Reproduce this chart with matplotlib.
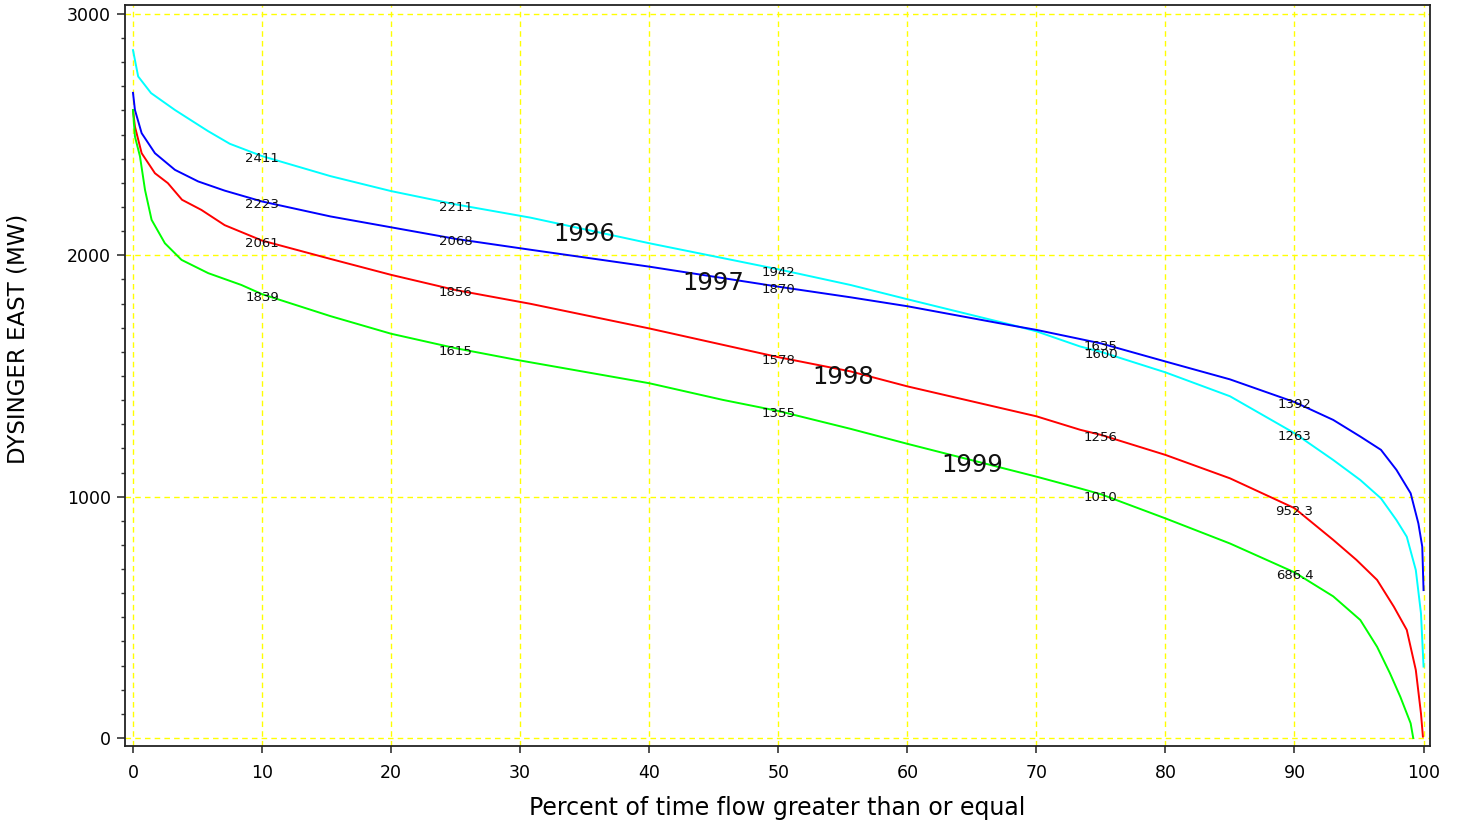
import matplotlib
matplotlib.use("Agg")
import matplotlib.pyplot as plt
from matplotlib.ticker import MultipleLocator

# ---- data ----
years = ["1996", "1997", "1998", "1999"]
colors = ["#00FFFF", "#0000FF", "#FF0000", "#00FF00"]

x1996 = [0, 0.4, 1.4, 3.25, 5.8, 7.5, 10, 15.3, 20, 25, 30.8, 40, 50, 55.6, 60, 68, 70, 73.4, 75,
         80, 85, 90, 93, 95.1, 96.7, 97.9, 98.7, 99.4, 99.8, 100]
y1996 = [2850, 2741, 2672, 2602, 2515, 2462, 2411, 2328, 2266, 2211, 2156, 2050, 1942, 1877, 1818,
         1713, 1685, 1622, 1600, 1515, 1416, 1263, 1152, 1069, 993, 903, 834, 696, 517, 296]

x1997 = [0, 0.15, 0.67, 1.7, 3.25, 5.05, 7.1, 10, 15.3, 20, 25, 30.8, 40, 50, 55.6, 60, 68, 70,
         73.4, 75, 80, 85, 90, 93, 95.1, 96.7, 97.9, 99.0, 99.6, 99.9, 100]
y1997 = [2673, 2602, 2506, 2423, 2354, 2306, 2268, 2223, 2161, 2116, 2068, 2023, 1953, 1870, 1826,
         1789, 1710, 1691, 1653, 1635, 1560, 1486, 1392, 1318, 1249, 1194, 1111, 1014, 889, 793, 613]

x1998 = [0, 0.15, 0.67, 1.7, 2.7, 3.8, 5.3, 7.1, 10, 15.3, 20, 25, 30.8, 40, 50, 55.6, 60, 70,
         73.4, 75, 80, 85, 90, 93, 94.8, 96.4, 97.7, 98.7, 99.4, 99.8, 99.95]
y1998 = [2602, 2533, 2423, 2340, 2299, 2230, 2188, 2125, 2061, 1985, 1919, 1856, 1799, 1697, 1578,
         1519, 1457, 1333, 1277, 1256, 1173, 1076, 952.3, 821, 738, 655, 544, 448, 282, 102, 6]

x1999 = [0, 0.15, 0.54, 0.93, 1.44, 2.47, 3.76, 5.83, 8.4, 10, 15.3, 20, 25, 29.7, 40, 45.7, 50,
         55.6, 60, 70, 73.4, 75, 80, 85, 90, 93, 95.1, 96.4, 97.4, 98.2, 99.0, 99.2]
y1999 = [2602, 2492, 2410, 2271, 2147, 2050, 1981, 1926, 1877, 1839, 1748, 1675, 1615, 1567, 1470,
         1401, 1355, 1281, 1219, 1083, 1034, 1010, 910, 806, 686.4, 587, 489, 378, 268, 171, 61, 0]

# percentile labels
label_pcts = [10, 25, 50, 75, 90]
labels1996 = ["2411", "2211", "1942", "1600", "1263"]
labels1997 = ["2223", "2068", "1870", "1635", "1392"]
labels1998 = ["2061", "1856", "1578", "1256", "952.3"]
labels1999 = ["1839", "1615", "1355", "1010", "686.4"]

# year label positions
year_label_x = [35, 45, 55, 65]
year_label_y = [2089, 1886, 1496, 1131]

xticks = [0, 10, 20, 30, 40, 50, 60, 70, 80, 90, 100]
yticks = [0, 1000, 2000, 3000]

# ---- plot ----
fig = plt.figure(figsize=(14.6, 8.24), dpi=100)
ax = fig.add_axes([125 / 1460, 1 - 746 / 824, (1430 - 125) / 1460, (746 - 5) / 824])

series_x = [x1996, x1997, x1998, x1999]
series_y = [y1996, y1997, y1998, y1999]
series_lab = [labels1996, labels1997, labels1998, labels1999]

for xs, ys, c in zip(series_x, series_y, colors):
    ax.plot(xs, ys, color=c, lw=1.4, zorder=3)

for labs in series_lab:
    for p, s in zip(label_pcts, labs):
        ax.text(p, float(s) - 12, s, ha="center", va="center", fontsize=9.5,
                color="#111111", zorder=5)

for yr, xx, yy in zip(years, year_label_x, year_label_y):
    ax.text(xx, yy, yr, ha="center", va="center", fontsize=17.5, color="#111111", zorder=5)

ax.set_xlim(-0.62, 100.5)
ax.set_ylim(-33, 3037)
ax.set_xticks(xticks)
ax.set_yticks(yticks)
ax.yaxis.set_minor_locator(MultipleLocator(100))

for v in xticks:
    ax.axvline(v, color="#FFFF00", lw=1.0, ls=(0, (4, 3)), zorder=1)
for v in yticks:
    ax.axhline(v, color="#FFFF00", lw=1.0, ls=(0, (4, 3)), zorder=1)

ax.tick_params(axis="x", which="major", direction="out", length=5, width=1.2,
               color="#333333", labelsize=12.5, pad=8)
ax.tick_params(axis="y", which="major", direction="out", length=6, width=1.2,
               color="#333333", labelsize=12.5, pad=4)
ax.tick_params(axis="y", which="minor", direction="out", length=3, width=1.0, color="#333333")

for sp in ax.spines.values():
    sp.set_color("#222222")
    sp.set_linewidth(1.3)

ax.set_xlabel("Percent of time flow greater than or equal", fontsize=17, labelpad=10)
ax.set_ylabel("DYSINGER EAST (MW)", fontsize=16.5)
ax.yaxis.set_label_coords(-0.073, 0.549)

fig.savefig("out.png", dpi=100)
